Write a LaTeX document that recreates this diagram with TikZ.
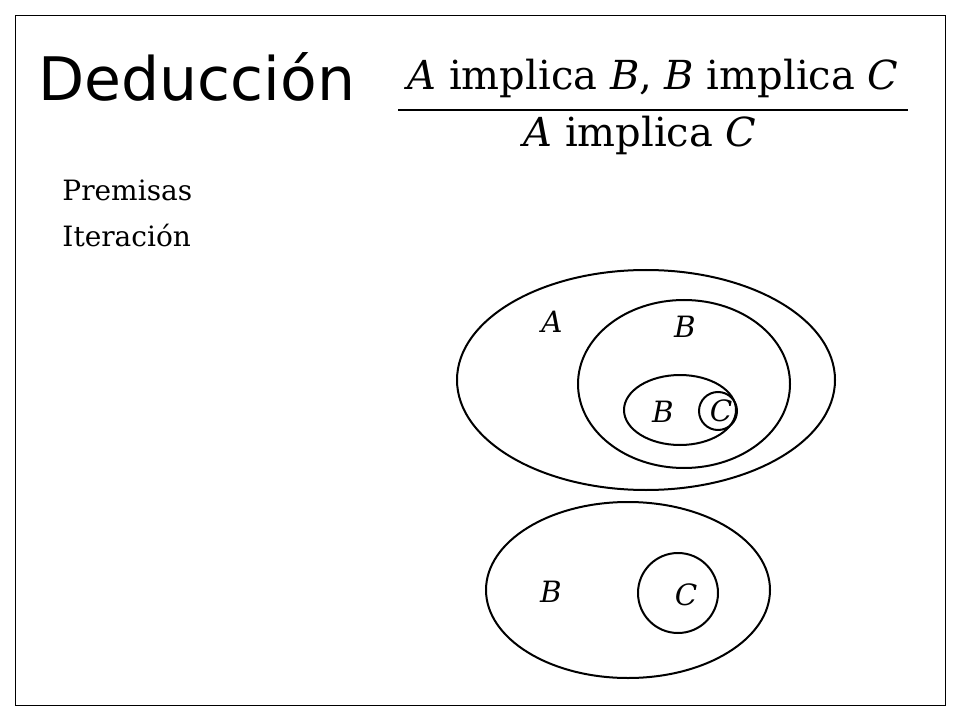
\documentclass[tikz,border=0pt]{standalone}
\usepackage{fontspec}
\setmainfont{DejaVu Serif}
\newfontfamily\titlefont{DejaVu Sans}
\begin{document}
\begin{tikzpicture}[x=0.75pt,y=-0.75pt,line width=1.5pt,
  lab/.style={font=\fontsize{22}{26}\selectfont\itshape},
  big/.style={font=\fontsize{30}{36}\selectfont}]
\useasboundingbox (0,0) rectangle (960,720);
\draw[line width=0.6pt] (15,15) rectangle (945,705);
\node[anchor=west,font=\titlefont\fontsize{45}{54}\selectfont] (t) at (33,77) {Deducción};
\node[big] (p) at (653,78) {\textit{A} implica \textit{B}, \textit{B} implica \textit{C}};
\coordinate (l1) at (398,110); \coordinate (l2) at (908,110);
\draw[line width=1pt] (l1) -- (l2);
\node[big] (c) at (640,135) {\textit{A} implica \textit{C}};
\node[anchor=west,font=\fontsize{21}{25}\selectfont] (pr) at (57,190) {Premisas};
\node[anchor=west,font=\fontsize{21}{25}\selectfont] (it) at (57,236) {Iteración};
\draw (646,380) ellipse [x radius=189,y radius=110];
\draw (684,384) ellipse [x radius=106,y radius=84];
\draw (680,410) ellipse [x radius=56,y radius=35];
\draw (718,411) circle [radius=19];
\node[lab] (a1) at (552,322) {A};
\node[lab] (b1) at (685,327) {B};
\node[lab] (b2) at (663,412) {B};
\node[lab] (c1) at (721,411) {C};
\draw (628,590) ellipse [x radius=142,y radius=88];
\draw (678,593) circle [radius=40];
\node[lab] (b3) at (551,592) {B};
\node[lab] (c2) at (686,595) {C};
\end{tikzpicture}
\end{document}
